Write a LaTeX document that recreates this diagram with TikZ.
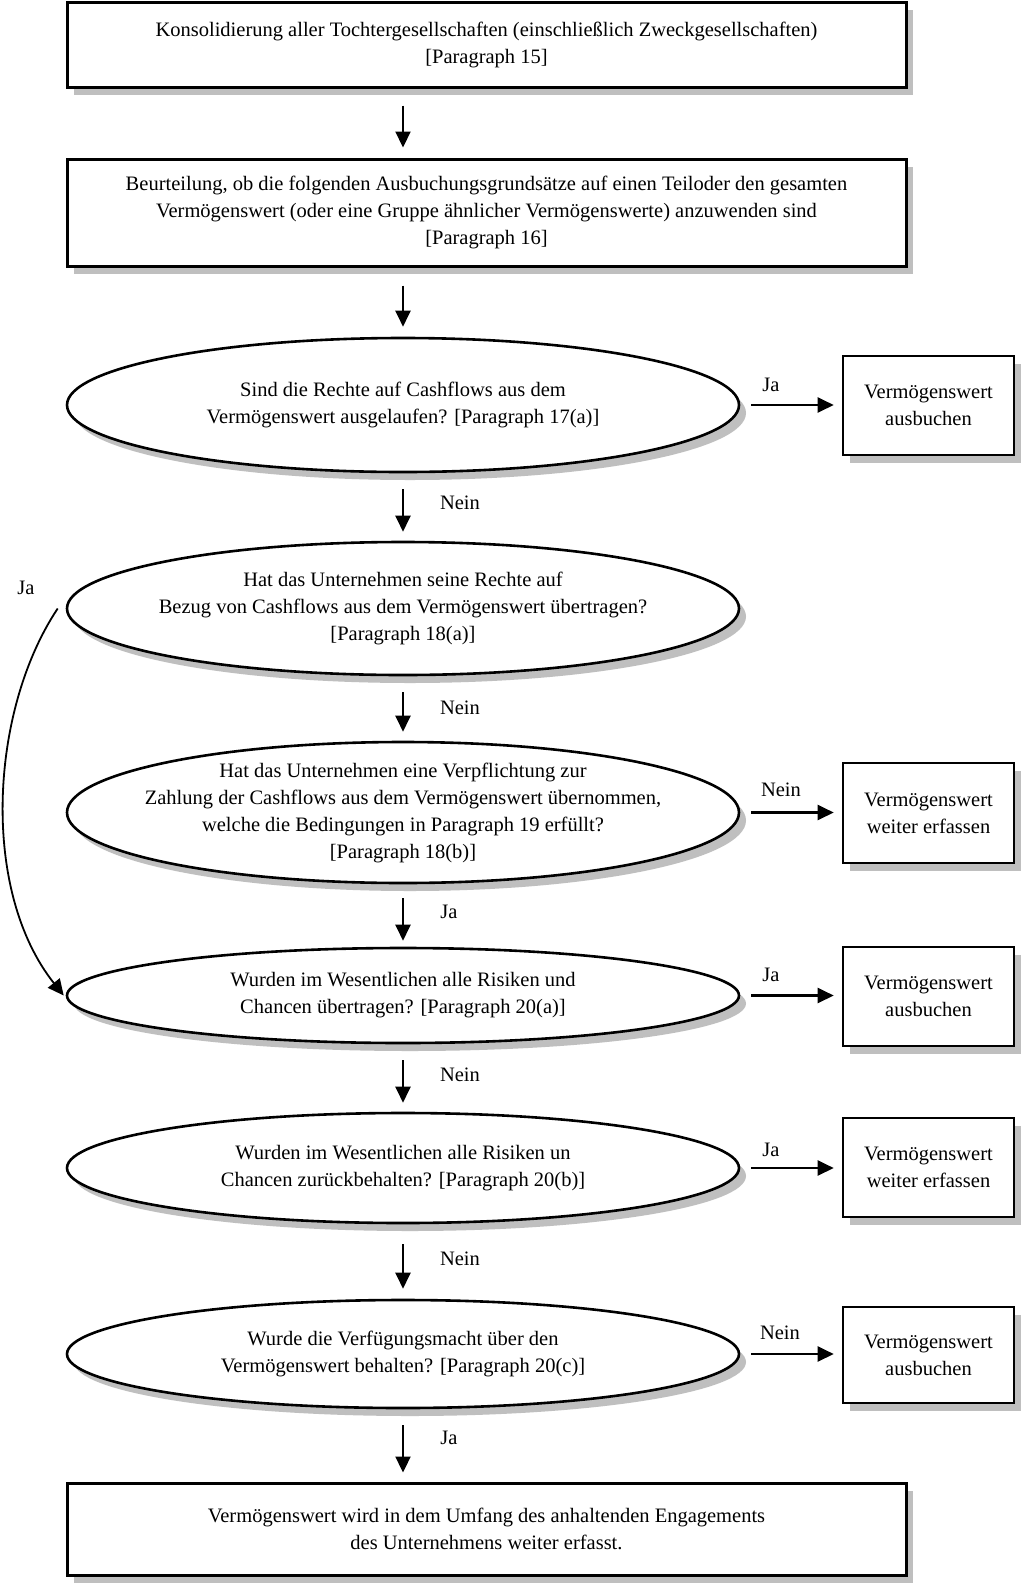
\documentclass[tikz,border=0pt]{standalone}
\usepackage{fontspec}
\setmainfont{Liberation Serif}
\usetikzlibrary{shapes.geometric,arrows.meta,shadows,calc}
\begin{document}
\begin{tikzpicture}[x=1pt,y=-1pt,
  every node/.style={font=\fontsize{20.5}{27}\selectfont},
  shad/.style={drop shadow={shadow xshift=7pt, shadow yshift=-8pt, fill=black!25, opacity=1}},
  box/.style={shad, draw, line width=3pt, rectangle, fill=white, inner sep=0pt, align=center},
  bigbox/.style={box, minimum width=839pt},
  sidebox/.style={box, minimum width=171pt, line width=2.6pt},
  ell/.style={shad, draw, line width=2.6pt, ellipse, fill=white, inner xsep=-300pt, inner ysep=-80pt, minimum width=672pt, align=center},
  arr/.style={line width=2.2pt, -{Triangle[length=16pt,width=15pt]}},
  down/.style={arr, shorten <=16pt, shorten >=9pt},
  side/.style={arr, shorten <=11pt, shorten >=8pt},
  lbl/.style={inner sep=0pt}
]
\useasboundingbox[fill=white] (0,0) rectangle (1021,1588);

\node[bigbox, minimum height=85pt] (b1) at (486.5,44.5) {Konsolidierung aller Tochtergesellschaften (einschließlich Zweckgesellschaften)\\{}[Paragraph 15]};
\node[bigbox, minimum height=107pt] (b2) at (486.5,212.5) {Beurteilung, ob die folgenden Ausbuchungsgrundsätze auf einen Teiloder den gesamten\\Vermögenswert (oder eine Gruppe ähnlicher Vermögenswerte) anzuwenden sind\\{}[Paragraph 16]};

\node[ell, minimum height=134pt] (e1) at (403,405) {Sind die Rechte auf Cashflows aus dem\\Vermögenswert ausgelaufen? [Paragraph 17(a)]};
\node[ell, minimum height=133pt] (e2) at (403,608.5) {Hat das Unternehmen seine Rechte auf\\Bezug von Cashflows aus dem Vermögenswert übertragen?\\{}[Paragraph 18(a)]};
\node[ell, minimum height=141pt] (e3) at (403,812.5) {Hat das Unternehmen eine Verpflichtung zur\\Zahlung der Cashflows aus dem Vermögenswert übernommen,\\welche die Bedingungen in Paragraph 19 erfüllt?\\{}[Paragraph 18(b)]};
\node[ell, minimum height=95pt] (e4) at (403,995.5) {Wurden im Wesentlichen alle Risiken und\\Chancen übertragen? [Paragraph 20(a)]};
\node[ell, minimum height=110pt] (e5) at (403,1168) {Wurden im Wesentlichen alle Risiken un\\Chancen zurückbehalten? [Paragraph 20(b)]};
\node[ell, minimum height=108pt] (e6) at (403,1354) {Wurde die Verfügungsmacht über den\\Vermögenswert behalten? [Paragraph 20(c)]};
\node[bigbox, minimum height=92pt] (b3) at (486.5,1529) {Vermögenswert wird in dem Umfang des anhaltenden Engagements\\des Unternehmens weiter erfasst.};

\node[sidebox, minimum height=99pt] (r1) at (928.5,405.5) {Vermögenswert\\ausbuchen};
\node[sidebox, minimum height=100pt] (r2) at (928.5,813) {Vermögenswert\\weiter erfassen};
\node[sidebox, minimum height=99pt] (r3) at (928.5,996.5) {Vermögenswert\\ausbuchen};
\node[sidebox, minimum height=99pt] (r4) at (928.5,1167.5) {Vermögenswert\\weiter erfassen};
\node[sidebox, minimum height=96pt] (r5) at (928.5,1355) {Vermögenswert\\ausbuchen};

% vertical arrows
\draw[down, shorten <=17pt, shorten >=10pt] (b1.south -| e1.center) -- (b2.north -| e1.center);
\draw[down, shorten <=18pt, shorten >=10pt] (b2.south -| e1.center) -- (e1.north);
\draw[down] (e1.south) -- (e2.north);
\draw[down] (e2.south) -- (e3.north);
\draw[down, shorten <=14pt, shorten >=6pt] (e3.south) -- (e4.north);
\draw[down] (e4.south) -- (e5.north);
\draw[down, shorten <=20pt, shorten >=10pt] (e5.south) -- (e6.north);
\draw[down] (e6.south) -- (b3.north -| e6.center);

% side arrows
\draw[side] (e1.east) -- (e1.east -| r1.west);
\draw[side] (e3.east) -- (e3.east -| r2.west);
\draw[side] (e4.east) -- (e4.east -| r3.west);
\draw[side] (e5.east) -- (e5.east -| r4.west);
\draw[side] (e6.east) -- (e6.east -| r5.west);

% curved Ja arrow
\draw[arr, line width=1.8pt] ([xshift=-8pt]e2.west) .. controls (-10,710) and (-20,890) .. ([xshift=-2pt]e4.west);

% labels
\node[lbl] (l1) at (771,385) {Ja};
\node[lbl] (l2) at (460,503) {Nein};
\node[lbl] (l3) at (26,588) {Ja};
\node[lbl] (l4) at (460,708) {Nein};
\node[lbl] (l5) at (781,790) {Nein};
\node[lbl] (l6) at (449,912) {Ja};
\node[lbl] (l7) at (771,975) {Ja};
\node[lbl] (l8) at (460,1075) {Nein};
\node[lbl] (l9) at (771,1150) {Ja};
\node[lbl] (l10) at (460,1259) {Nein};
\node[lbl] (l11) at (780,1333) {Nein};
\node[lbl] (l12) at (449,1438) {Ja};
\end{tikzpicture}
\end{document}
